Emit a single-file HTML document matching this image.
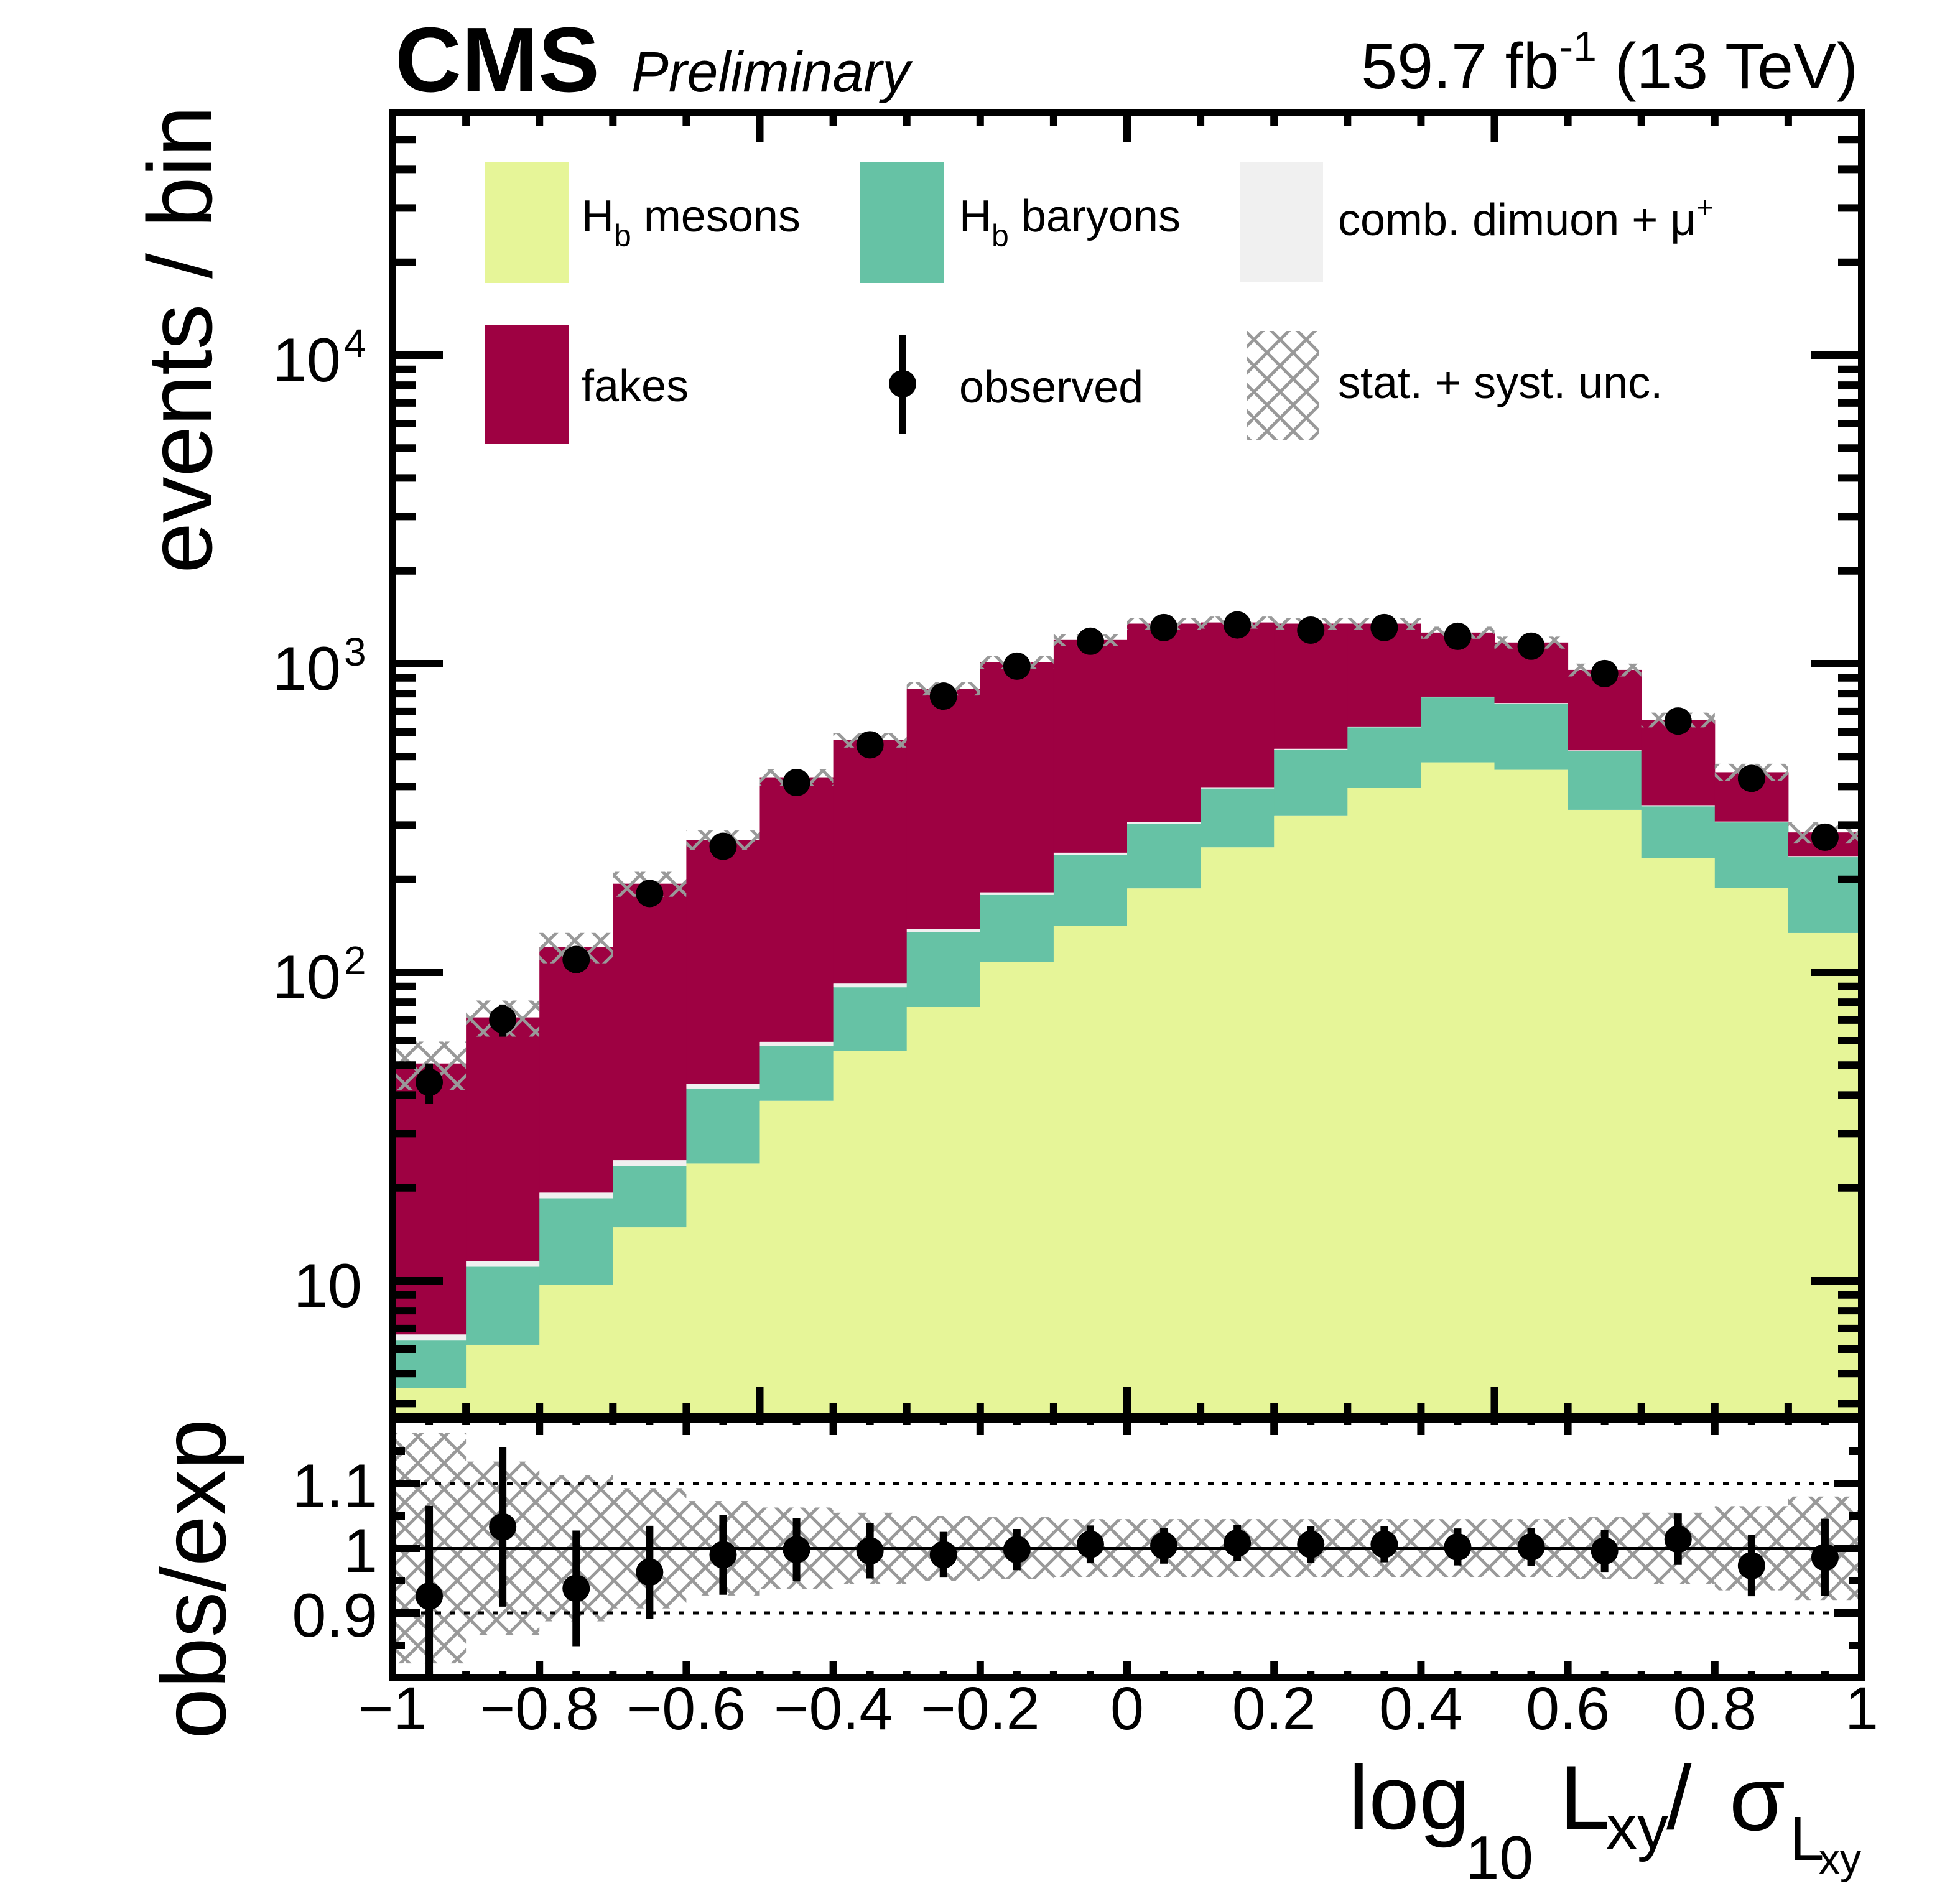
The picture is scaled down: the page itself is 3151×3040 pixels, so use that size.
<!DOCTYPE html>
<html><head><meta charset="utf-8"><style>
html,body{margin:0;padding:0;background:#fff}
svg{display:block;font-family:"Liberation Sans",Arial,sans-serif}
</style></head><body>
<svg id="chart" width="3151" height="3040" viewBox="0 0 3151 3040" xmlns="http://www.w3.org/2000/svg">
<defs>
<pattern id="hatch" patternUnits="userSpaceOnUse" width="42" height="42">
<path d="M0,0 L42,42 M42,0 L0,42 M-21,21 L21,63 M21,-21 L63,21 M21,63 L63,21 M-21,21 L21,-21" stroke="#999" stroke-width="5" fill="none"/>
</pattern>
<clipPath id="clipMain"><rect x="631" y="181" width="2362" height="2097"/></clipPath>
<clipPath id="clipRatio"><rect x="631" y="2281" width="2362" height="416"/></clipPath>
</defs>
<rect width="3151" height="3040" fill="#fff"/>
<g id="mainLayer" clip-path="url(#clipMain)"></g>
<g id="ratioLayer" clip-path="url(#clipRatio)"></g>
<g id="axesLayer"></g>
<g id="legend">
<rect x="780" y="260" width="135" height="195" fill="#e6f598"/>
<text x="935" y="372" font-size="72">H<tspan font-size="50" dy="24">b</tspan><tspan dy="-24"> mesons</tspan></text>
<rect x="1383" y="260" width="135" height="195" fill="#66c2a5"/>
<text x="1542" y="372" font-size="72">H<tspan font-size="50" dy="24">b</tspan><tspan dy="-24"> baryons</tspan></text>
<rect x="1994" y="261" width="133" height="192" fill="#f0f0f0"/>
<text x="2151" y="378" font-size="72">comb. dimuon + μ<tspan font-size="48" dy="-28">+</tspan></text>
<rect x="780" y="523" width="135" height="191" fill="#9e0142"/>
<text x="935" y="645" font-size="72">fakes</text>
<line x1="1451" y1="539" x2="1451" y2="697" stroke="#000" stroke-width="12"/>
<circle cx="1451" cy="617" r="22" fill="#000"/>
<text x="1542" y="647" font-size="72">observed</text>
<rect x="2004" y="532" width="116" height="175" fill="url(#hatch)"/>
<text x="2151" y="640" font-size="72">stat. + syst. unc.</text>
</g>
<text x="635" y="147" font-size="148" font-weight="bold" textLength="329" lengthAdjust="spacingAndGlyphs">CMS</text>
<text x="1015" y="147" font-size="92" font-style="italic" textLength="448" lengthAdjust="spacingAndGlyphs">Preliminary</text>
<text x="2987" y="142" font-size="104" text-anchor="end">59.7 fb<tspan font-size="68" dy="-44">-1</tspan><tspan dy="44"> (13 TeV)</tspan></text>
<text transform="translate(340,170) rotate(-90)" font-size="147" text-anchor="end">events / bin</text>
<text transform="translate(362,2281) rotate(-90)" font-size="147" text-anchor="end">obs/exp</text>
<g>
<text x="2168" y="2940" font-size="146">log</text>
<text x="2356" y="3020" font-size="98">10</text>
<text x="2507" y="2940" font-size="146">L</text>
<text x="2582" y="2972" font-size="100">xy</text>
<text x="2679" y="2940" font-size="146">/</text>
<text x="2780" y="2942" font-size="146">σ</text>
<text x="2877" y="2990" font-size="100">L</text>
<text x="2924" y="3012" font-size="68">xy</text>
</g>
</svg>
<script>
// ---- data (bins of 0.1 from -1 to 1) ----
const binEdgesLow = [-1,-0.9,-0.8,-0.7,-0.6,-0.5,-0.4,-0.3,-0.2,-0.1,0,0.1,0.2,0.3,0.4,0.5,0.6,0.7,0.8,0.9];
const binWidth = 0.1;
const mesons = [4.5,6.2,9.7,14.9,24.0,38.3,55.6,77.1,108,141,187,254,321,397,479,453,336,234,188,134];
const baryons = [1.9,4.9,8.8,8.7,18.0,19.4,33.8,58,70,99,116,140,205,225,299,289,185,111,118,102];
const comb = [0.3,0.5,0.8,1.0,1.5,1.8,2.5,3,3.5,4,4,4,4,4,4,4,3,3,2,2];
const fakes = [43.9,59.8,101.2,169,225,369,474,692,828,950,1042,963,819,723,480,426,431,310,137,46];
const observed = [44.0,70.2,110,180,256,412,546,785,982,1183,1310,1336,1285,1310,1227,1140,929,652,425,274];
const ratio = [0.926,1.033,0.938,0.963,0.99,0.998,0.996,0.99,0.998,1.006,1.004,1.008,1.006,1.006,1.002,1.002,0.996,1.014,0.973,0.986];
const relUnc = [0.178,0.134,0.113,0.093,0.073,0.063,0.055,0.05,0.048,0.045,0.045,0.045,0.045,0.045,0.045,0.045,0.048,0.055,0.065,0.08];
const xTickLabels = ["−1","−0.8","−0.6","−0.4","−0.2","0","0.2","0.4","0.6","0.8","1"];
const xTickValues = [-1,-0.8,-0.6,-0.4,-0.2,0,0.2,0.4,0.6,0.8,1];
const yDecades = [10,100,1000,10000];
const yDecadeLabels = ["10","10","10","10"];
const yDecadeSups = ["","2","3","4"];
const ratioTickValues = [0.9,1,1.1];
const ratioTickLabels = ["0.9","1","1.1"];

// ---- axes ----
const L=631,R=2993,T=181,MB=2278,RT=2281,RB=2697;
const X = v => L + (v + 1) * (R - L) / 2;
const Y = v => 571 - (Math.log10(v) - 4) * 496;
const YR = r => 2489 - (r - 1) * 1040;
const NS="http://www.w3.org/2000/svg";
function mk(tag, parent, attrs){const e=document.createElementNS(NS,tag);for(const k in attrs)e.setAttribute(k,attrs[k]);parent.appendChild(e);return e;}
const main=document.getElementById('mainLayer'), rat=document.getElementById('ratioLayer'), ax=document.getElementById('axesLayer');

const colors={mesons:"#e6f598",baryons:"#66c2a5",comb:"#f0f0f0",fakes:"#9e0142"};
binEdgesLow.forEach((lo,i)=>{
  const x0=X(lo), x1=X(lo+binWidth);
  let base=0;
  const comps=[["mesons",mesons[i]],["baryons",baryons[i]],["comb",comb[i]],["fakes",fakes[i]]];
  comps.forEach(([name,val])=>{
    const yb = base>0 ? Y(base) : MB+10;
    const top = base+val;
    const r=mk('rect',main,{x:x0,y:Y(top),width:x1-x0+0.5,height:Math.max(0,yb-Y(top)),fill:colors[name]});
    
    
    base=top;
  });
  const total=base;
  const h=mk('rect',main,{x:x0,y:Y(total*(1+relUnc[i])),width:x1-x0,height:Y(total*(1-relUnc[i]))-Y(total*(1+relUnc[i])),fill:"url(#hatch)"});
  
  
  const rh=mk('rect',rat,{x:x0,y:YR(1+relUnc[i]),width:x1-x0,height:YR(1-relUnc[i])-YR(1+relUnc[i]),fill:"url(#hatch)"});
  
  
});
// ratio reference lines
[1.1,0.9].forEach(v=>{
  const l=mk('line',rat,{x1:L,x2:R,y1:YR(v),y2:YR(v),stroke:"#000","stroke-width":5,"stroke-dasharray":"9 14"});
  
  
});
const one=mk('line',rat,{x1:L,x2:R,y1:YR(1),y2:YR(1),stroke:"#000","stroke-width":4});


// observed points
binEdgesLow.forEach((lo,i)=>{
  const xc=X(lo+binWidth/2), n=observed[i], s=Math.sqrt(n);
  const el=mk('line',main,{x1:xc,x2:xc,y1:Y(n+s),y2:Y(Math.max(n-s,0.01)),stroke:"#000","stroke-width":12});
  
  
  const c=mk('circle',main,{cx:xc,cy:Y(n),r:22,fill:"#000"});
  
  
  const e=ratio[i]/s;
  const rl=mk('line',rat,{x1:xc,x2:xc,y1:YR(ratio[i]+e),y2:YR(ratio[i]-e),stroke:"#000","stroke-width":12});
  
  
  const rc=mk('circle',rat,{cx:xc,cy:YR(ratio[i]),r:22,fill:"#000"});
  
  
});
// ticks
function tick(x1,y1,x2,y2,name){const t=mk('line',ax,{x1,y1,x2,y2,stroke:"#000","stroke-width":12});}
for(let k=0;k<=20;k++){const v=-1+k*0.1;const major=(k%5===0);const len=major?48:22;
  tick(X(v),MB,X(v),MB-len,'main-x-tick');tick(X(v),T,X(v),T+len,'main-x-tick-top');}
for(let k=0;k<=40;k++){const v=-1+k*0.05;const major=(k%4===0);const len=major?26:10;
  tick(X(v),RB,X(v),RB-len,'ratio-x-tick');tick(X(v),RT,X(v),RT+len,'ratio-x-tick-top');}
for(let d=1;d<=10000;d*=10){for(let m=1;m<10;m++){const v=d*m;const yy=Y(v);if(yy<T+5||yy>MB-5)continue;
  const len=(m===1)?81:38;tick(L,yy,L+len,yy,'main-y-tick');tick(R,yy,R-len,yy,'main-y-tick-right');}}
[0.85,0.9,0.95,1,1.05,1.1,1.15].forEach(v=>{const major=Math.abs(v*10-Math.round(v*10))<1e-6;const len=major?45:20;
  tick(L,YR(v),L+len,YR(v),'ratio-y-tick');tick(R,YR(v),R-len,YR(v),'ratio-y-tick-right');});
// frames
const f1=mk('rect',ax,{x:L,y:T,width:R-L,height:MB-T,fill:"none",stroke:"#000","stroke-width":12});

const f2=mk('rect',ax,{x:L,y:RT,width:R-L,height:RB-RT,fill:"none",stroke:"#000","stroke-width":12});

// labels
xTickValues.forEach((v,i)=>{const t=mk('text',ax,{x:X(v),y:2780,"font-size":97,"text-anchor":"middle"});t.textContent=xTickLabels[i];
  });
yDecades.forEach((v,i)=>{const yy=Y(v);const sup=yDecadeSups[i];
  const t=mk('text',ax,{x:sup?548:582,y:yy+42,"font-size":99,"text-anchor":"end"});t.textContent=yDecadeLabels[i];
  
  if(sup){const s=mk('text',ax,{x:553,y:yy+3,"font-size":64});s.textContent=sup;
    }});
ratioTickValues.forEach((v,i)=>{const t=mk('text',ax,{x:607,y:YR(v)+38,"font-size":99,"text-anchor":"end"});t.textContent=ratioTickLabels[i];
  });
</script>
</body></html>
